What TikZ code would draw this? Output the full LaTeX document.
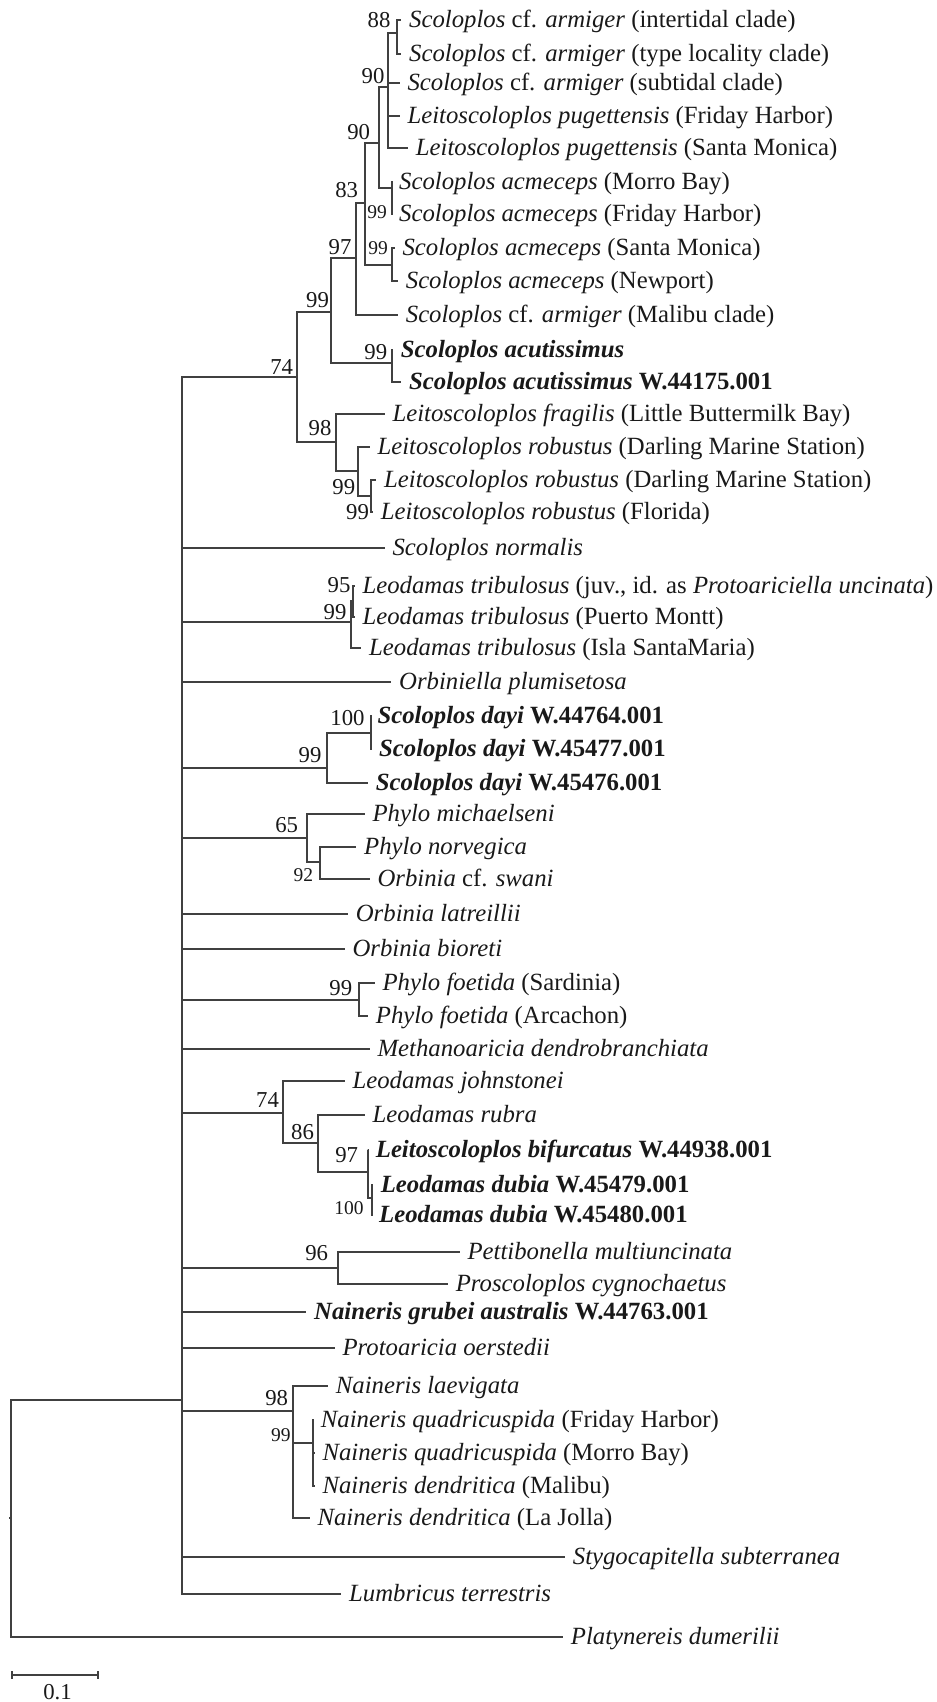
\documentclass[tikz,border=0pt]{standalone}
\usepackage{fontspec}
\setmainfont{Liberation Serif}
\usepackage{tikz}
\usetikzlibrary{positioning}

\begin{document}
\begin{tikzpicture}[x=0.4pt, y=-0.4pt, line width=0.7pt, draw=black!75, text=black!90,
	leaf/.style = {anchor=west, inner xsep=2.8pt, inner ysep=0pt, text height=0.7em, text depth=0.1em, font=\fontsize{9.9}{11}\selectfont},
	bs/.style = {inner sep=0pt, font=\fontsize{9.1}{10}\selectfont},
	bss/.style = {inner sep=0pt, font=\fontsize{7.8}{9}\selectfont}]
		\useasboundingbox (0,0) rectangle (937,1702);
		% taxa
		\node[leaf] (l1) at (401.3,20) {\textit{Scoloplos} cf. \textit{armiger} (intertidal clade)};
		\node[leaf] (l2) at (401.3,54) {\textit{Scoloplos} cf. \textit{armiger} (type locality clade)};
		\node[leaf] (l3) at (399.7,83) {\textit{Scoloplos} cf. \textit{armiger} (subtidal clade)};
		\node[leaf] (l4) at (399.7,116) {\textit{Leitoscoloplos pugettensis} (Friday Harbor)};
		\node[leaf] (l5) at (408,148) {\textit{Leitoscoloplos pugettensis} (Santa Monica)};
		\node[leaf] (l6) at (391.3,182) {\textit{Scoloplos acmeceps} (Morro Bay)};
		\node[leaf] (l7) at (391.3,214) {\textit{Scoloplos acmeceps} (Friday Harbor)};
		\node[leaf] (l8) at (394.7,248) {\textit{Scoloplos acmeceps} (Santa Monica)};
		\node[leaf] (l9) at (398,281) {\textit{Scoloplos acmeceps} (Newport)};
		\node[leaf] (l10) at (398,315) {\textit{Scoloplos} cf. \textit{armiger} (Malibu clade)};
		\node[leaf] (l11) at (393,350) {\textbf{\textit{Scoloplos acutissimus}}};
		\node[leaf] (l12) at (401.3,382) {\textbf{\textit{Scoloplos acutissimus} W.44175.001}};
		\node[leaf] (l13) at (384.7,414) {\textit{Leitoscoloplos fragilis} (Little Buttermilk Bay)};
		\node[leaf] (l14) at (369.7,447) {\textit{Leitoscoloplos robustus} (Darling Marine Station)};
		\node[leaf] (l15) at (376.3,480) {\textit{Leitoscoloplos robustus} (Darling Marine Station)};
		\node[leaf] (l16) at (373,512) {\textit{Leitoscoloplos robustus} (Florida)};
		\node[leaf] (l17) at (384.7,548) {\textit{Scoloplos normalis}};
		\node[leaf] (l18) at (354.7,586) {\textit{Leodamas tribulosus} (juv., id. as \textit{Protoariciella uncinata})};
		\node[leaf] (l19) at (354.7,617) {\textit{Leodamas tribulosus} (Puerto Montt)};
		\node[leaf] (l20) at (361.3,648) {\textit{Leodamas tribulosus} (Isla SantaMaria)};
		\node[leaf] (l21) at (391.3,682) {\textit{Orbiniella plumisetosa}};
		\node[leaf] (l22) at (369.7,716) {\textbf{\textit{Scoloplos dayi} W.44764.001}};
		\node[leaf] (l23) at (371.3,749) {\textbf{\textit{Scoloplos dayi} W.45477.001}};
		\node[leaf] (l24) at (368,783) {\textbf{\textit{Scoloplos dayi} W.45476.001}};
		\node[leaf] (l25) at (364.7,814) {\textit{Phylo michaelseni}};
		\node[leaf] (l26) at (356.3,847) {\textit{Phylo norvegica}};
		\node[leaf] (l27) at (369.7,879) {\textit{Orbinia} cf. \textit{swani}};
		\node[leaf] (l28) at (348,914) {\textit{Orbinia latreillii}};
		\node[leaf] (l29) at (344.7,949) {\textit{Orbinia bioreti}};
		\node[leaf] (l30) at (374.7,983) {\textit{Phylo foetida} (Sardinia)};
		\node[leaf] (l31) at (368,1016) {\textit{Phylo foetida} (Arcachon)};
		\node[leaf] (l32) at (369.7,1049) {\textit{Methanoaricia dendrobranchiata}};
		\node[leaf] (l33) at (344.7,1081) {\textit{Leodamas johnstonei}};
		\node[leaf] (l34) at (364.7,1115) {\textit{Leodamas rubra}};
		\node[leaf] (l35) at (368,1150) {\textbf{\textit{Leitoscoloplos bifurcatus} W.44938.001}};
		\node[leaf] (l36) at (373,1185) {\textbf{\textit{Leodamas dubia} W.45479.001}};
		\node[leaf] (l37) at (371.3,1215) {\textbf{\textit{Leodamas dubia} W.45480.001}};
		\node[leaf] (l38) at (459.7,1252) {\textit{Pettibonella multiuncinata}};
		\node[leaf] (l39) at (448,1284) {\textit{Proscoloplos cygnochaetus}};
		\node[leaf] (l40) at (306.3,1312) {\textbf{\textit{Naineris grubei australis} W.44763.001}};
		\node[leaf] (l41) at (334.7,1348) {\textit{Protoaricia oerstedii}};
		\node[leaf] (l42) at (328,1386) {\textit{Naineris laevigata}};
		\node[leaf] (l43) at (313,1420) {\textit{Naineris quadricuspida} (Friday Harbor)};
		\node[leaf] (l44) at (314.7,1453) {\textit{Naineris quadricuspida} (Morro Bay)};
		\node[leaf] (l45) at (314.7,1486) {\textit{Naineris dendritica} (Malibu)};
		\node[leaf] (l46) at (309.7,1518) {\textit{Naineris dendritica} (La Jolla)};
		\node[leaf] (l47) at (565,1557) {\textit{Stygocapitella subterranea}};
		\node[leaf] (l48) at (341.3,1594) {\textit{Lumbricus terrestris}};
		\node[leaf] (l49) at (563,1637) {\textit{Platynereis dumerilii}};
		% internal nodes
		\coordinate (root) at (11,1518);
		\coordinate (bb) at (181.7,1400);
		\coordinate (n74) at (296.7,376.7);
		\coordinate (n99a) at (331,311.7);
		\coordinate (n97) at (356,258.3);
		\coordinate (n83) at (365,203.3);
		\coordinate (n90b) at (378.8,143.3);
		\coordinate (n90a) at (388.3,86.7);
		\coordinate (n88) at (396.7,33);
		\coordinate (n99ac1) at (391.7,188.3);
		\coordinate (n99ac2) at (391.7,265);
		\coordinate (n99acu) at (392.3,363.3);
		\coordinate (n98) at (335.7,441.7);
		\coordinate (n99b) at (358.3,471);
		\coordinate (n99c) at (370.7,496);
		\coordinate (n99t) at (350.7,622);
		\coordinate (n95) at (353.3,601);
		\coordinate (n99d) at (326.7,768);
		\coordinate (n100) at (371,733);
		\coordinate (n65) at (306.7,838);
		\coordinate (n92) at (320,862);
		\coordinate (n99f) at (359,1000);
		\coordinate (n74b) at (283.3,1113);
		\coordinate (n86) at (318.3,1143);
		\coordinate (n97b) at (368.3,1172);
		\coordinate (n100b) at (371.7,1198);
		\coordinate (n96) at (338.3,1268);
		\coordinate (n98n) at (293.3,1411);
		\coordinate (nq) at (312.7,1443);
		% branches
		\draw (root) -- ++(-2,0);
		\draw (root) |- (bb) (root) |- (l49.west);
		\draw (bb) |- (n74) (bb) |- (l17.west) (bb) |- (n99t) (bb) |- (l21.west) (bb) |- (n99d)
			(bb) |- (n65) (bb) |- (l28.west) (bb) |- (l29.west) (bb) |- (n99f) (bb) |- (l32.west)
			(bb) |- (n74b) (bb) |- (n96) (bb) |- (l40.west) (bb) |- (l41.west) (bb) |- (n98n)
			(bb) |- (l47.west) (bb) |- (l48.west);
		\draw (n74) |- (n99a) (n74) |- (n98);
		\draw (n99a) |- (n97) (n99a) |- (n99acu);
		\draw (n97) |- (n83) (n97) |- (l10.west);
		\draw (n83) |- (n90b) (n83) |- (n99ac2);
		\draw (n90b) |- (n90a) (n90b) |- (n99ac1);
		\draw (n90a) |- (n88) (n90a) |- (l3.west) (n90a) |- (l4.west) (n90a) |- (l5.west);
		\draw (n88) |- (l1.west) (n88) |- (l2.west);
		\draw (n99ac1) |- (l6.west) (n99ac1) |- (l7.west);
		\draw (n99ac2) |- (l8.west) (n99ac2) |- (l9.west);
		\draw (n99acu) |- (l11.west) (n99acu) |- (l12.west);
		\draw (n98) |- (l13.west) (n98) |- (n99b);
		\draw (n99b) |- (l14.west) (n99b) |- (n99c);
		\draw (n99c) |- (l15.west) (n99c) |- (l16.west);
		\draw (n99t) |- (n95) (n99t) |- (l20.west);
		\draw (n95) |- (l18.west) (n95) |- (l19.west);
		\draw (n99d) |- (n100) (n99d) |- (l24.west);
		\draw (n100) |- (l22.west) (n100) |- (l23.west);
		\draw (n65) |- (l25.west) (n65) |- (n92);
		\draw (n92) |- (l26.west) (n92) |- (l27.west);
		\draw (n99f) |- (l30.west) (n99f) |- (l31.west);
		\draw (n74b) |- (l33.west) (n74b) |- (n86);
		\draw (n86) |- (l34.west) (n86) |- (n97b);
		\draw (n97b) |- (l35.west) (n97b) |- (n100b);
		\draw (n100b) |- (l36.west) (n100b) |- (l37.west);
		\draw (n96) |- (l38.west) (n96) |- (l39.west);
		\draw (n98n) |- (l42.west) (n98n) |- (nq) (n98n) |- (l46.west);
		\draw (nq) |- (l43.west) (nq) |- (l44.west) (nq) |- (l45.west);
		% support values
		\node[bs] (b88) at (379,20) {88};
		\node[bs] (b90a) at (373,76) {90};
		\node[bs] (b90b) at (358.7,131.7) {90};
		\node[bs] (b83) at (346.7,190) {83};
		\node[bss] (b99ac1) at (377,211.7) {99};
		\node[bss] (b99ac2) at (378,248) {99};
		\node[bs] (b97) at (340,246.7) {97};
		\node[bs] (b99a) at (317.5,300) {99};
		\node[bs] (b74) at (281.7,366.7) {74};
		\node[bs] (b99acu) at (375.8,351.7) {99};
		\node[bs] (b98) at (320,428.3) {98};
		\node[bs] (b99b) at (343.8,486.7) {99};
		\node[bs] (b99c) at (357.5,511.7) {99};
		\node[bs] (b95) at (339,585) {95};
		\node[bs] (b99t) at (335,611.7) {99};
		\node[bs] (b100) at (347.5,718.3) {100};
		\node[bs] (b99d) at (310,755) {99};
		\node[bs] (b65) at (286.7,825) {65};
		\node[bss] (b92) at (303.3,875) {92};
		\node[bs] (b99f) at (340.8,988.3) {99};
		\node[bs] (b74b) at (267.5,1100) {74};
		\node[bs] (b86) at (302.5,1131.7) {86};
		\node[bs] (b97b) at (346.7,1155) {97};
		\node[bss] (b100b) at (349,1208.3) {100};
		\node[bs] (b96) at (316.7,1253.3) {96};
		\node[bs] (b98n) at (276.7,1398.3) {98};
		\node[bss] (b99n) at (280.8,1435) {99};
		% scale bar
		\coordinate (s1) at (11.7,1675);
		\coordinate (s2) at (97.7,1675);
		\draw (s1) -- (s2);
		\draw (s1) ++(0,-4) -- ++(0,8);
		\draw (s2) ++(0,-4) -- ++(0,8);
		\node[bs] (sc) at (57.5,1691.7) {0.1};
	\end{tikzpicture}
\end{document}
